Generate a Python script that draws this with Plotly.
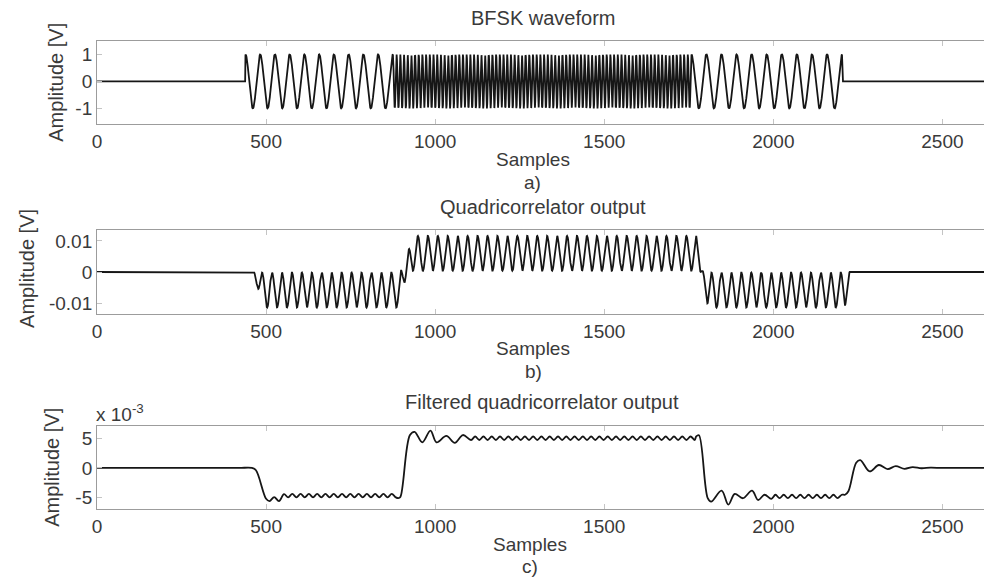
import numpy as np
import plotly.graph_objects as go

# ---------------- tick labels ----------------
x_tickvals = [0, 500, 1000, 1500, 2000, 2500]
x_ticktext = ["0", "500", "1000", "1500", "2000", "2500"]
a_tickvals = [-1, 0, 1]
a_ticktext = ["-1", "0", "1"]
b_tickvals = [-0.01, 0, 0.01]
b_ticktext = ["-0.01", "0", "0.01"]
c_tickvals = [-5, 0, 5]
c_ticktext = ["-5", "0", "5"]

n_samples = 2624

# ---------------- a) BFSK waveform (segments read from the picture) ----------------
a_seg_start = [439, 875, 1758]
a_seg_end = [875, 1758, 2204]
a_seg_period = [43.6, 10.9, 44.6]      # samples per cycle
a_amplitude = 1.0

# ---------------- b) Quadricorrelator output ----------------
b_edge_start = [464, 893, 1772, 2212]   # transition windows between segments
b_edge_end = [488, 930, 1806, 2226]
b_seg_mean = [-0.0058, 0.0060, -0.0058]
b_seg_amp = [0.0056, 0.0056, 0.0056]
b_seg_ref = [503, 949, 1832]            # a trough (-1) / peak (+1) position
b_seg_sign = [-1, 1, -1]
b_period = 29.4

# ---------------- c) Filtered quadricorrelator output (x 10^-3) ----------------
c_key_x = [0, 150, 300, 420, 458, 470, 500, 510, 524, 538, 553,
           891, 897, 925, 939, 962, 986, 1004, 1033, 1058, 1082, 1106,
           1772, 1780, 1806, 1816, 1847, 1867, 1886, 1910, 1937, 1955, 1974, 1994,
           2212, 2222, 2245, 2257, 2285, 2312, 2338, 2362, 2388, 2412, 2438, 2465,
           2500, 2560, 2623]
c_key_y = [0, 0, 0, 0, 0, -0.4, -5.3, -5.7, -5.0, -5.7, -4.5,
           -5.2, -5.0, 5.6, 6.2, 4.4, 6.4, 4.4, 5.5, 4.3, 5.65, 4.8,
           5.4, 5.6, -5.2, -5.8, -3.9, -6.3, -4.45, -5.2, -3.9, -5.5, -4.6, -5.3,
           -4.6, -4.0, 0.9, 1.35, -0.6, 0.5, -0.2, 0.3, -0.15, 0.15, -0.05, 0.05,
           0, 0, 0]
c_plateau_start = [553, 1106, 1994]
c_plateau_end = [888, 1770, 2210]
c_plateau_level = [-4.75, 5.1, -4.9]
c_plateau_ripple = [0.3, 0.3, 0.3]
c_plateau_first = [-1, 1, 1]
c_ripple_period = 24.5

# ---------------- build series ----------------
n = np.arange(n_samples)

ya = np.zeros(n_samples)
phase = 0.0
for s, e, p in zip(a_seg_start, a_seg_end, a_seg_period):
    idx = (n >= s) & (n < e)
    ya[idx] = a_amplitude * np.cos(phase + 2 * np.pi * (n[idx] - s) / p)
    phase += 2 * np.pi * (e - s) / p

yb = np.zeros(n_samples)
for k in range(len(b_seg_mean)):
    w = np.interp(n, [b_edge_start[k], b_edge_end[k], b_edge_start[k + 1], b_edge_end[k + 1]],
                  [0, 1, 1, 0], left=0, right=0)
    yb += w * (b_seg_mean[k] + b_seg_sign[k] * b_seg_amp[k] *
               np.cos(2 * np.pi * (n - b_seg_ref[k]) / b_period))

cx = list(c_key_x)
cy = list(c_key_y)
half = c_ripple_period / 2
for s, e, lv, rp, f in zip(c_plateau_start, c_plateau_end, c_plateau_level,
                           c_plateau_ripple, c_plateau_first):
    xs = np.arange(s + half, e, half)
    for i, xv in enumerate(xs):
        cx.append(float(xv))
        cy.append(lv + f * rp * (1 if i % 2 == 0 else -1))
order = np.argsort(cx)
cx = np.array(cx)[order]
cy = np.array(cy)[order]

# ---------------- figure ----------------
W, H = 984, 577
LINE = dict(color="#161616", width=1.8)
FONT = "Liberation Sans, Arial, sans-serif"
TXT = "#3a3a3a"

fig = go.Figure()
fig.add_trace(go.Scatter(x=n, y=ya, mode="lines", line=LINE, xaxis="x", yaxis="y"))
fig.add_trace(go.Scatter(x=n, y=yb, mode="lines", line=LINE, xaxis="x2", yaxis="y2"))
fig.add_trace(go.Scatter(x=cx, y=cy, mode="lines", line=dict(LINE, shape="spline", smoothing=1.0),
                         xaxis="x3", yaxis="y3"))

def px_y(p):
    return 1 - p / H

def px_x(p):
    return p / W

xdom = [px_x(92.5), 1.0]
doms = {"a": [px_y(124), px_y(40.7)], "b": [px_y(314), px_y(230)], "c": [px_y(509), px_y(426)]}

common = dict(showline=True, linecolor="#9c9c9c", linewidth=1, ticks="inside", ticklen=5,
              tickcolor="#c4c4c4", tickwidth=1, showgrid=False, zeroline=False,
              tickfont=dict(family=FONT, size=19, color=TXT))

xax = dict(common, range=[0, 2623], domain=xdom, tickvals=x_tickvals, ticktext=x_ticktext,
           mirror="ticks")
layout = dict(
    width=W, height=H, margin=dict(l=0, r=0, t=0, b=0),
    paper_bgcolor="white", plot_bgcolor="white", showlegend=False,
    xaxis=dict(xax, anchor="y"),
    xaxis2=dict(xax, anchor="y2"),
    xaxis3=dict(xax, anchor="y3"),
    yaxis=dict(common, domain=doms["a"], range=[-1.58, 1.51], tickvals=a_tickvals,
               ticktext=a_ticktext, anchor="x"),
    yaxis2=dict(common, domain=doms["b"], range=[-0.0135, 0.0135], tickvals=b_tickvals,
                ticktext=b_ticktext, anchor="x2"),
    yaxis3=dict(common, domain=doms["c"], range=[-7.05, 7.2], tickvals=c_tickvals,
                ticktext=c_ticktext, anchor="x3"),
)
fig.update_layout(**layout)

def ann(text, x, y, size=19, angle=0, xanchor="center"):
    fig.add_annotation(text=text, x=px_x(x), y=px_y(y), xref="paper", yref="paper",
                       showarrow=False, textangle=angle, xanchor=xanchor, yanchor="middle",
                       font=dict(family=FONT, size=size, color=TXT))

ann("BFSK waveform", 541, 18, size=20)
ann("Samples", 531, 159)
ann("a)", 530, 182)
ann("Quadricorrelator output", 541, 207, size=20)
ann("Samples", 531, 348)
ann("b)", 531, 371)
ann("Filtered quadricorrelator output", 540, 402, size=20)
ann("Samples", 528, 544)
ann("c)", 528, 566)
ann("x 10<sup>-3</sup>", 89, 413, size=19, xanchor="left")
ann("Amplitude [V]", 51, 82, size=20, angle=-90)
ann("Amplitude [V]", 22, 268, size=20, angle=-90)
ann("Amplitude [V]", 47, 467, size=20, angle=-90)

fig.write_html("out.html", config={"displayModeBar": False},
               post_script="document.body.style.margin='0px';document.body.style.overflow='hidden';")
